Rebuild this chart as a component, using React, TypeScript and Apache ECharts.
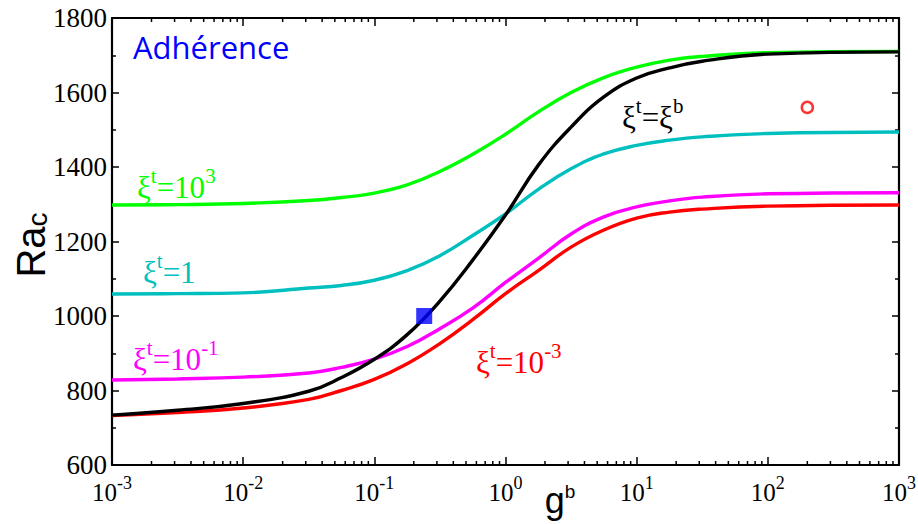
import React, { useEffect, useRef } from 'react';
import * as echarts from 'echarts';

// g^b sample positions (log-spaced) and critical Rayleigh numbers
const gValues = [0.001, 0.00316, 0.01, 0.0316, 0.0562, 0.1, 0.178, 0.316, 0.562, 1, 1.78, 3.16, 5.62, 10, 17.8, 31.6, 100, 1000];
const raXi1e3 = [1298, 1299, 1302, 1310, 1318, 1330, 1352, 1388, 1434, 1488, 1548, 1600, 1640, 1668, 1687, 1697, 1707, 1710];
const raXi1 = [1059, 1060, 1062, 1075, 1082, 1096, 1122, 1162, 1216, 1274, 1340, 1395, 1435, 1458, 1472, 1481, 1490, 1494];
const raXi1em1 = [828, 831, 836, 847, 862, 884, 918, 966, 1021, 1090, 1155, 1220, 1266, 1293, 1309, 1319, 1328, 1331];
const raXi1em3 = [733, 741, 753, 776, 800, 830, 872, 926, 990, 1060, 1122, 1185, 1231, 1263, 1279, 1287, 1295, 1298];
const raXiEq = [734, 747, 765, 798, 835, 884, 950, 1040, 1150, 1271, 1405, 1507, 1588, 1639, 1666, 1684, 1703, 1709];

const squarePoint = [0.24, 1000];
const circlePoint = [200, 1560];

const xMin = 0.001;
const xMax = 1000;
const yMin = 600;
const yMax = 1800;
const yStep = 200;
const xMinorTicks: number[] = [];
for (let d = -3; d < 3; d++) {
  for (let m = 2; m <= 9; m++) xMinorTicks.push(+(m * Math.pow(10, d)).toPrecision(3));
}

const SERIF = "'Liberation Serif', 'Times New Roman', serif";
const SANS = "'Liberation Sans', Arial, sans-serif";

const supRich = (main: number, sup: number, color: string, lift: number) => ({
  m: { fontSize: main, fontFamily: SERIF, color, lineHeight: main + lift, verticalAlign: 'bottom' },
  s: { fontSize: sup, fontFamily: SERIF, color, lineHeight: sup + 2, verticalAlign: 'top' },
});

const xiLabel = (text: string, x: number, baseline: number, color: string) => ({
  type: 'text',
  x,
  y: baseline - 9,
  silent: true,
  style: {
    text,
    rich: supRich(31, 21, color, 6),
    fill: color,
    align: 'left',
    verticalAlign: 'middle',
  },
});

export default function App() {
  const ref = useRef<HTMLDivElement>(null);
  useEffect(() => {
    if (!ref.current) return;
    const chart = echarts.init(ref.current, null, { renderer: 'svg' });
    const mk = (d: number[]) => gValues.map((g, i) => [g, d[i]]);
    const lineSeries = (name: string, d: number[], color: string, z: number) => ({
      name,
      type: 'line',
      data: mk(d),
      showSymbol: false,
      symbol: 'none',
      smooth: 0.45,
      lineStyle: { color, width: 3.4 },
      z,
      silent: true,
    });
    const axisCommon = {
      axisLine: { show: true, onZero: false, lineStyle: { color: '#000', width: 2.2 } },
      splitLine: { show: false },
    };
    chart.setOption({
      animation: false,
      backgroundColor: '#ffffff',
      grid: { left: 112, top: 18, width: 787, height: 447, outerBoundsMode: 'none' },
      xAxis: [
        {
          type: 'log',
          logBase: 10,
          min: xMin,
          max: xMax,
          position: 'bottom',
          ...axisCommon,
          axisTick: { show: true, inside: true, length: 8, lineStyle: { color: '#000', width: 1.5 } },
          axisLabel: {
            margin: 9,
            fontFamily: SERIF,
            fontSize: 25,
            color: '#000',
            formatter: (v: number) => `{m|10}{s|${Math.round(Math.log10(v))}}`,
            rich: supRich(25, 18, '#000', 6),
          },
        },
        {
          type: 'log',
          logBase: 10,
          min: xMin,
          max: xMax,
          position: 'top',
          ...axisCommon,
          axisTick: { show: true, inside: true, length: 8, lineStyle: { color: '#000', width: 1.5 } },
          axisLabel: { show: false },
        },
      ],
      yAxis: [
        {
          type: 'value',
          min: yMin,
          max: yMax,
          interval: yStep,
          position: 'left',
          ...axisCommon,
          axisTick: { show: true, inside: true, length: 7, lineStyle: { color: '#000', width: 1.5 } },
          minorTick: { show: true, splitNumber: 2, length: 4, lineStyle: { color: '#000', width: 1.5 } },
          axisLabel: {
            margin: 5,
            fontSize: 27,
            fontFamily: SERIF,
            color: '#000',
            formatter: (v: number) => String(v),
          },
        },
        {
          type: 'value',
          min: yMin,
          max: yMax,
          interval: yStep,
          position: 'right',
          ...axisCommon,
          axisTick: { show: true, inside: true, length: 7, lineStyle: { color: '#000', width: 1.5 } },
          minorTick: { show: true, splitNumber: 2, length: 4, lineStyle: { color: '#000', width: 1.5 } },
          axisLabel: { show: false },
        },
      ],
      series: [
        {
          type: 'custom',
          coordinateSystem: 'cartesian2d',
          xAxisIndex: 0,
          yAxisIndex: 0,
          silent: true,
          clip: false,
          z: 5,
          data: xMinorTicks.map((v) => [v, yMin]),
          renderItem: (params: any, api: any) => {
            const p0 = api.coord([api.value(0), yMin]);
            const p1 = api.coord([api.value(0), yMax]);
            const st = { stroke: '#000', lineWidth: 1.5 };
            return {
              type: 'group',
              children: [
                { type: 'line', shape: { x1: p0[0], y1: p0[1], x2: p0[0], y2: p0[1] - 4 }, style: st },
                { type: 'line', shape: { x1: p1[0], y1: p1[1], x2: p1[0], y2: p1[1] + 4 }, style: st },
              ],
            };
          },
        },
        lineSeries('ξt=10^3', raXi1e3, '#00ff00', 2),
        lineSeries('ξt=1', raXi1, '#00bfbf', 2),
        lineSeries('ξt=10^-1', raXi1em1, '#ff00ff', 2),
        lineSeries('ξt=10^-3', raXi1em3, '#ff0000', 2),
        lineSeries('ξt=ξb', raXiEq, '#000000', 3),
        {
          name: 'square',
          type: 'scatter',
          data: [squarePoint],
          symbol: 'rect',
          symbolSize: 16,
          itemStyle: { color: '#0000ff' },
          z: 4,
          silent: true,
        },
        {
          name: 'circle',
          type: 'scatter',
          data: [circlePoint],
          symbol: 'circle',
          symbolSize: 11,
          itemStyle: { color: '#ffffff', borderColor: '#ff0000', borderWidth: 2.5 },
          z: 4,
          silent: true,
        },
      ],
      graphic: [
        {
          type: 'text',
          x: 133,
          y: 47,
          silent: true,
          style: {
            text: 'Adhérence',
            fontSize: 31,
            fontFamily: "'Open Sans', sans-serif",
            fill: '#0000ff',
            align: 'left',
            verticalAlign: 'middle',
          },
        },
        xiLabel('{m|ξ}{s|t}{m|=10}{s|3}', 137, 193, '#00ff00'),
        xiLabel('{m|ξ}{s|t}{m|=1}', 143, 278, '#00bfbf'),
        xiLabel('{m|ξ}{s|t}{m|=10}{s|-1}', 133, 365, '#ff00ff'),
        xiLabel('{m|ξ}{s|t}{m|=10}{s|-3}', 476, 368, '#ff0000'),
        xiLabel('{m|ξ}{s|t}{m|=ξ}{s|b}', 622, 123, '#000000'),
        {
          type: 'text',
          x: 30,
          y: 245,
          rotation: Math.PI / 2,
          silent: true,
          style: {
            text: '{r|Ra}{c|c}',
            rich: {
              r: { fontSize: 40, fontFamily: SANS, color: '#000', lineHeight: 42, verticalAlign: 'bottom' },
              c: { fontSize: 28, fontFamily: SANS, color: '#000', lineHeight: 27, verticalAlign: 'bottom' },
            },
            align: 'center',
            verticalAlign: 'middle',
          },
        },
        {
          type: 'text',
          x: 560,
          y: 500,
          silent: true,
          style: {
            text: '{g|g}{b|b}',
            rich: {
              g: { fontSize: 36, fontFamily: SANS, color: '#000', lineHeight: 36, verticalAlign: 'bottom' },
              b: { fontSize: 19, fontFamily: SANS, color: '#000', lineHeight: 32, verticalAlign: 'top' },
            },
            align: 'center',
            verticalAlign: 'middle',
          },
        },
      ],
    });
    return () => chart.dispose();
  }, []);
  return <div ref={ref} style={{ position: 'fixed', left: 0, top: 0, width: 918, height: 524 }} />;
}
